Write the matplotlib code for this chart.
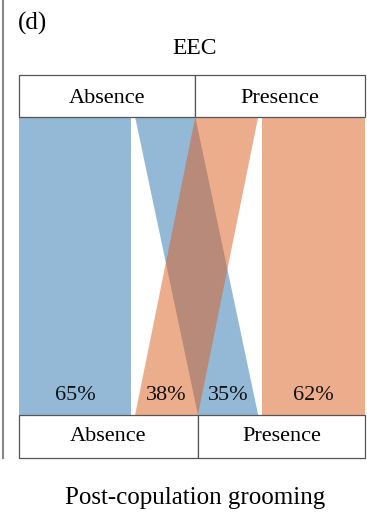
"""
Panel (d): EEC vs post-copulation grooming, two-level parallel sets.
"""
import matplotlib
matplotlib.use("Agg")
import matplotlib.pyplot as plt
from matplotlib.patches import Polygon, Rectangle
from matplotlib.lines import Line2D

# ---------------------------------------------------------------------------
# DATA
# ---------------------------------------------------------------------------
eec_levels   = ["Absence", "Presence"]      # top axis (EEC)
groom_levels = ["Absence", "Presence"]      # bottom axis (grooming)
eec_n        = [52, 50]                     # individuals per EEC level
# percent of each EEC level going to each grooming level
pct = [[65, 35],
       [38, 62]]

# ---------------------------------------------------------------------------
# STYLE
# ---------------------------------------------------------------------------
plt.rcParams.update({
    "font.family": ["Liberation Serif", "DejaVu Serif"],
    "font.size": 16,
})
COLS  = ["#2975b1", "#db5d1d"]   # EEC absence / presence
ALPHA = 0.5
EDGE  = "#555555"
GAP   = 1.3                      # white gap between ribbons inside a level

W, H = 367, 515
fig = plt.figure(figsize=(W / 100, H / 100), dpi=100)

# axes spans from top box to bottom box
left, right, top, bot = 19, 365, 75, 458
ax = fig.add_axes([left / W, 1 - bot / H, (right - left) / W, (bot - top) / H])
ax.set_axis_off()

flows = [[pct[i][j] / 100 * eec_n[i] for j in range(2)] for i in range(2)]
total = sum(eec_n) + 2 * GAP
ax.set_xlim(0, total)
ax.set_ylim(0, 1)

box_h  = 42 / (bot - top)
y_top  = 1 - box_h               # ribbons start under top box
y_bot  = 43 / (bot - top)        # ribbons end above bottom box

# top positions: within each EEC level, ribbons ordered by grooming level
top_pos = {}
x = 0
top_bounds = []
for i in range(2):
    start = x
    for j in range(2):
        top_pos[(i, j)] = (x, x + flows[i][j])
        x += flows[i][j]
        if j == 0:
            x += GAP
    top_bounds.append((start, x))

# bottom positions: within each grooming level, ribbons ordered by EEC level
bot_pos = {}
x = 0
bot_bounds = []
for j in range(2):
    start = x
    for i in range(2):
        bot_pos[(i, j)] = (x, x + flows[i][j])
        x += flows[i][j]
        if i == 0:
            x += GAP
    bot_bounds.append((start, x))

# ribbons
for i in range(2):
    for j in range(2):
        t0, t1 = top_pos[(i, j)]
        b0, b1 = bot_pos[(i, j)]
        ax.add_patch(Polygon([(t0, y_top), (t1, y_top), (b1, y_bot), (b0, y_bot)],
                             closed=True, facecolor=COLS[i], alpha=ALPHA,
                             edgecolor="none", zorder=2))

# percentage labels at the foot of each ribbon
for i in range(2):
    for j in range(2):
        b0, b1 = bot_pos[(i, j)]
        ax.annotate(f"{pct[i][j]}%", xy=((b0 + b1) / 2, y_bot),
                    xytext=(0, 15), textcoords="offset pixels",
                    ha="center", va="baseline", fontsize=16, color="#111111",
                    zorder=5)

# category boxes
for (x0, x1), name in zip(top_bounds, eec_levels):
    ax.add_patch(Rectangle((x0, y_top), x1 - x0, box_h, facecolor="white",
                           edgecolor=EDGE, lw=0.9, zorder=3, clip_on=False))
    ax.text((x0 + x1) / 2, y_top + box_h / 2 - 0.006, name, ha="center",
            va="center", fontsize=16, zorder=4)
for (x0, x1), name in zip(bot_bounds, groom_levels):
    ax.add_patch(Rectangle((x0, 0), x1 - x0, y_bot, facecolor="white",
                           edgecolor=EDGE, lw=0.9, zorder=3, clip_on=False))
    ax.text((x0 + x1) / 2, y_bot / 2, name, ha="center", va="center",
            fontsize=16, zorder=4)

# titles
fig.text(18 / W, 1 - 12 / H, "(d)", ha="left", va="top", fontsize=18)
fig.text(195 / W, 1 - 49 / H, "EEC", ha="center", va="center", fontsize=17)
fig.text(195 / W, 1 - 498 / H, "Post-copulation grooming", ha="center",
         va="center", fontsize=18)

# panel separator on the left
fig.add_artist(Line2D([3 / W, 3 / W], [1, 1 - 458 / H], color="#888888",
                      lw=1.5, transform=fig.transFigure))

fig.savefig("out.png", dpi=100, facecolor="white")
